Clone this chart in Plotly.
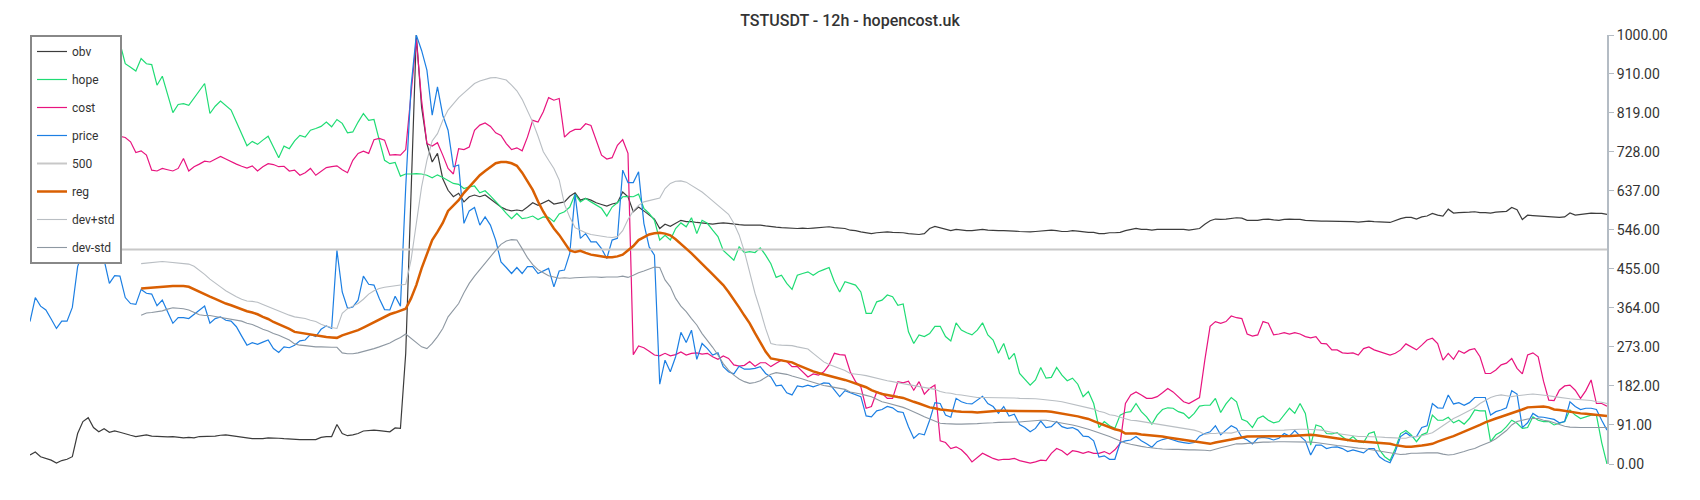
import plotly.graph_objects as go

# ---------------- data (values on a 0-1000 scale, one point per 12h candle) ----------------
obv = [21, 28, 17, 13, 9, 2, 8, 11, 17, 71, 99, 108, 85, 75, 82, 74, 77, 74, 70, 67,
       64, 66, 68, 65, 64, 63, 63, 64, 62, 61, 62, 61, 64, 64, 64, 65, 67, 68, 66, 64,
       63, 61, 59, 59, 59, 61, 61, 60, 59, 58,
       57, 57, 57, 57, 57, 62, 64, 64, 92, 71, 66, 68, 71, 77, 78, 79, 78, 77, 75, 84,
       83, 258, 646, 1000, 832, 747, 704, 724, 665, 638, 623, 631, 611, 623, 627, 623, 627, 617, 607, 599,
       593, 590, 592, 590, 599, 609, 603, 609, 615, 606, 609,
       611, 624, 632, 615, 619, 615, 609, 605, 601, 606, 609, 634, 623, 588, 599, 590, 580, 571, 549, 559,
       554, 561, 568, 565, 565, 563, 562, 561, 559, 561, 562, 561, 559, 558, 557, 557, 558, 557, 555, 553,
       552, 551, 550, 549, 549, 550, 549, 550, 551, 552, 553, 551, 550, 549,
       545, 544, 541, 539, 537, 539, 540, 541, 540, 540, 539, 537, 536, 535, 537, 549, 554, 551, 547, 544,
       547, 545, 544, 544, 545, 547, 545, 544, 544, 544, 544, 543, 542, 541, 541, 542, 543, 544, 545, 544,
       542, 542, 544, 543, 541, 540, 540, 537, 537, 539, 539, 540,
       544, 547, 549, 547, 547, 545, 547, 547, 547, 547, 547, 547, 545, 547, 549, 559, 567, 571, 570, 571,
       572, 574, 573, 568, 568, 568, 570, 571, 569, 568, 570, 571, 570, 570, 568, 567, 566, 566, 566, 566,
       566, 566, 565, 565, 564, 565, 566, 565, 565, 564, 563, 568, 572, 575,
       575, 571, 576, 578, 584, 580, 578, 594, 585, 586, 586, 587, 588, 586, 586, 585, 587, 588, 589, 598,
       593, 570, 580, 579, 578, 577, 576, 576, 575, 576, 585, 580, 582, 584, 585, 584, 584, 582]

hope = [940, 955, 950, 965, 975, 970, 985, 990, 992, 996, 1000, 998, 990, 985, 975, 976,
        981, 981, 933, 925, 916, 945, 933, 931, 883, 904, 862, 819, 838, 840, 836, 853, 870, 887, 817, 834,
        846, 836, 825, 797, 770, 742, 752, 745, 755, 764, 739, 714, 741, 735,
        753, 766, 762, 778, 782, 787, 797, 786, 803, 794, 772, 774, 797, 817, 801, 803, 755, 708, 700, 703,
        671, 676, 676, 677, 676, 673, 667, 674, 668, 660, 654, 652, 642, 646, 648, 632, 637, 625, 613, 599,
        584, 572, 584, 572, 574, 578, 570, 576, 575, 565, 583,
        588, 599, 629, 611, 619, 611, 603, 596, 578, 599, 609, 623, 624, 623, 629, 596, 584, 568, 522, 533,
        522, 549, 562, 553, 574, 537, 568, 561, 545, 530, 498, 487, 475, 506, 493, 495, 493, 504, 487, 467,
        435, 440, 421, 407, 440, 444, 448, 440, 448, 453, 458, 425, 401, 425,
        421, 417, 401, 351, 351, 378, 382, 394, 390, 370, 373, 308, 281, 301, 297, 304, 321, 321, 297, 287,
        329, 312, 306, 301, 312, 329, 301, 289, 258, 281, 244, 258, 211, 197, 184, 196, 225, 200, 202, 225,
        207, 194, 200, 186, 157, 169, 141, 85, 99, 89, 83, 114,
        120, 122, 141, 122, 110, 93, 114, 127, 131, 130, 122, 118, 106, 118, 135, 137, 137, 153, 120, 140,
        155, 145, 104, 99, 85, 106, 112, 102, 96, 99, 114, 130, 118, 141, 118, 44, 91, 87, 71, 70,
        73, 64, 54, 64, 52, 50, 71, 75, 33, 17, 8, 36, 71, 78,
        68, 52, 68, 73, 114, 102, 102, 109, 96, 102, 93, 106, 126, 124, 124, 52, 68, 75, 87, 102,
        95, 83, 85, 110, 102, 99, 99, 91, 95, 99, 126, 114, 106, 110, 114, 114, 50, 0]

cost = [870, 865, 860, 872, 868, 860, 855, 862, 858, 850, 855, 860, 852, 848, 855, 855,
        860, 764, 761, 751, 726, 730, 720, 685, 683, 689, 686, 683, 689, 712, 683, 693, 699, 706, 704, 711,
        717, 711, 704, 699, 694, 690, 695, 683, 693, 700, 698, 693, 694, 683,
        685, 673, 679, 689, 673, 681, 691, 693, 695, 686, 679, 708, 724, 729, 724, 756, 759, 755, 720, 721,
        720, 733, 863, 990, 848, 747, 741, 749, 720, 689, 676, 735, 733, 739, 778, 790, 795, 787, 772, 766,
        747, 733, 737, 730, 762, 801, 797, 821, 854, 848, 852,
        762, 774, 780, 780, 793, 789, 755, 720, 711, 714, 743, 756, 724, 255, 275, 271, 263, 254, 252, 258,
        252, 255, 261, 254, 258, 259, 256, 258, 250, 244, 252, 246, 231, 228, 230, 239, 228, 236, 236, 227,
        235, 242, 239, 227, 227, 215, 203, 210, 207, 215, 231, 258, 255, 254,
        215, 192, 180, 130, 134, 168, 165, 153, 153, 192, 189, 193, 172, 192, 163, 176, 184, 54, 50, 36,
        40, 33, 21, 5, 16, 25, 19, 13, 9, 11, 11, 13, 8, 5, 2, 5, 9, 8, 25, 36,
        31, 21, 31, 29, 25, 29, 25, 25, 29, 23, 33, 48,
        141, 161, 168, 161, 153, 153, 157, 166, 176, 168, 157, 145, 141, 149, 155, 242, 321, 332, 328, 332,
        345, 341, 339, 303, 298, 301, 332, 328, 301, 303, 306, 303, 306, 303, 297, 294, 297, 281, 280, 266,
        266, 259, 258, 259, 254, 269, 273, 266, 262, 258, 254, 258, 266, 280,
        273, 266, 277, 289, 293, 281, 242, 258, 244, 264, 258, 266, 269, 250, 211, 211, 219, 231, 235, 246,
        223, 210, 254, 259, 250, 193, 149, 148, 172, 182, 184, 172, 153, 171, 196, 141, 141, 135]

price = [332, 388, 368, 359, 338, 316, 333, 333, 365, 460, 495, 510, 505, 480, 476, 421, 439, 438, 388, 374,
         372, 407, 398, 396, 369, 382, 355, 328, 341, 341, 339, 349, 359, 368, 328, 339, 343, 335, 333, 320,
         298, 277, 283, 279, 284, 289, 269, 260, 273, 271,
         277, 287, 289, 302, 297, 314, 322, 316, 498, 401, 363, 366, 382, 438, 419, 417, 386, 360, 359, 391,
         368, 646, 879, 1000, 964, 918, 813, 879, 813, 778, 693, 697, 561, 590, 598, 557, 576, 557, 522, 471,
         458, 444, 458, 444, 460, 460, 444, 450, 456, 413, 450,
         452, 491, 629, 526, 537, 518, 518, 502, 479, 522, 526, 685, 656, 656, 681, 561, 506, 487, 186, 242,
         215, 250, 307, 283, 312, 244, 281, 269, 254, 259, 227, 215, 210, 228, 221, 221, 223, 227, 211, 203,
         182, 184, 166, 161, 182, 180, 184, 180, 184, 189, 188, 171, 157, 171,
         166, 161, 157, 112, 110, 124, 127, 134, 131, 122, 120, 87, 60, 71, 68, 102, 143, 141, 114, 109,
         153, 145, 141, 140, 148, 158, 141, 134, 118, 134, 112, 116, 92, 85, 75, 83, 100, 85, 87, 99,
         87, 83, 85, 79, 65, 64, 54, 16, 19, 11, 11, 50,
         54, 56, 64, 54, 47, 39, 52, 57, 60, 56, 52, 50, 48, 50, 65, 71, 75, 89, 68, 79,
         89, 83, 62, 56, 47, 60, 62, 60, 56, 60, 71, 65, 78, 65, 54, 21, 44, 44, 36, 39,
         40, 36, 29, 33, 29, 26, 36, 36, 17, 8, 3, 29, 64, 73,
         64, 64, 85, 89, 141, 131, 130, 161, 140, 143, 137, 143, 155, 155, 155, 114, 122, 126, 131, 171,
         163, 85, 96, 118, 110, 109, 106, 104, 96, 99, 145, 134, 127, 130, 130, 127, 102, 79]

threshold = 500

# regression band starts later (first full window)
reg_start = 21
reg = [409, 410, 412, 413, 414, 415, 415, 415, 415, 413, 407, 401, 395, 390, 385, 379, 374, 370, 365, 360,
       356, 353, 349, 343, 338, 331, 326, 321, 315,
       308, 306, 304, 302, 300, 297, 296, 295, 294, 300, 304, 308, 312, 318, 324, 330, 337, 343, 349, 353,
       357, 362, 386, 417, 456, 491, 522, 541, 562, 590, 603, 615, 632, 646, 660, 673, 683, 693, 701, 704,
       704, 701, 695, 679, 660, 639, 612, 588, 568, 549, 534,
       515, 498, 494, 497, 492, 488, 486, 484, 482, 482, 484, 488, 498, 508, 522, 529, 535, 538, 539, 537,
       533, 524, 514, 502, 491, 478, 467, 454, 442, 429, 417, 401, 384, 365, 346, 328, 305, 283, 262, 246,
       244, 242, 240, 237, 231, 226, 220, 216, 212, 209, 205, 202, 199, 196,
       192, 188, 184, 179, 172, 168, 163, 161, 158, 156, 154, 149, 145, 141, 137, 132, 130, 127, 126, 124,
       123, 122, 122, 121, 120, 121, 123, 123, 124, 124, 124, 124, 124, 124, 124, 124, 124, 123, 122, 120,
       118, 115, 113, 111, 108, 105, 100, 95, 90, 85, 81, 78,
       71, 71, 71, 69, 68, 67, 65, 64, 62, 60, 58, 56, 54, 52, 50, 48, 47, 50, 53, 55,
       57, 60, 62, 64, 64, 64, 64, 64, 64, 64, 64, 65, 66, 67, 67, 68, 67, 65, 64, 61,
       59, 57, 55, 54, 53, 52, 51, 50, 50, 48, 47, 44, 42, 40,
       40, 41, 43, 45, 47, 52, 57, 61, 65, 70, 75, 80, 85, 91, 97, 102, 106, 110, 114, 119,
       123, 127, 132, 133, 134, 134, 132, 127, 126, 124, 122, 119, 118, 117, 116, 115, 114, 112]

dev_plus = [467, 468, 470, 471, 472, 471, 470, 469, 467, 466, 461, 452, 442, 431, 421, 413, 404, 396, 390, 384,
            380, 379, 377, 372, 367, 362, 357, 351, 347,
            343, 341, 339, 335, 332, 326, 321, 318, 316, 351, 362, 368, 374, 384, 396, 404, 409, 412, 414, 416,
            418, 419, 475, 561, 646, 708, 753, 770, 801, 825, 840, 854, 865, 877, 887, 893, 897, 900, 901, 898,
            895, 883, 870, 850, 825, 797, 764, 728, 708, 689, 662,
            605, 575, 551, 545, 539, 535, 533, 530, 529, 528, 530, 544, 570, 590, 603, 611, 614, 617, 620, 642,
            654, 659, 660, 657, 650, 642, 634, 624, 614, 603, 593, 582, 561, 534, 495, 444, 398, 359, 316, 281,
            278, 277, 277, 276, 273, 270, 268, 258, 249, 238, 232, 227, 222, 218,
            211, 210, 208, 206, 203, 200, 196, 194, 192, 189, 187, 185, 183, 181, 179, 177, 174, 169, 166, 165,
            162, 161, 159, 157, 155, 155, 155, 155, 155, 155, 155, 154, 153, 153, 153, 152, 151, 150, 148, 147,
            145, 142, 140, 137, 134, 131, 128, 123, 120, 115, 113, 109,
            105, 102, 101, 99, 97, 95, 94, 92, 90, 88, 85, 83, 81, 79, 75, 69, 71, 71, 73, 73,
            72, 75, 78, 78, 78, 78, 78, 78, 78, 79, 79, 80, 81, 81, 81, 81, 80, 79, 77, 74,
            71, 69, 68, 66, 64, 64, 64, 64, 63, 62, 62, 61, 60, 60,
            64, 64, 66, 69, 73, 81, 89, 99, 106, 112, 118, 124, 131, 141, 148, 155, 159, 161, 159, 157,
            159, 161, 162, 163, 162, 160, 159, 157, 155, 153, 152, 151, 150, 149, 148, 145, 144, 141]

dev_minus = [347, 352, 353, 355, 357, 361, 364, 363, 362, 359, 354, 348, 346, 346, 344, 342, 340, 338, 336, 333,
             328, 325, 320, 314, 310, 304, 300, 295, 289,
             280, 277, 276, 274, 273, 273, 272, 272, 272, 259, 257, 257, 259, 262, 265, 269, 273, 277, 282, 289,
             295, 303, 293, 283, 273, 269, 281, 297, 316, 343, 360, 374, 399, 421, 438, 453, 469, 485, 498, 512,
             520, 523, 522, 502, 481, 465, 453, 446, 439, 436, 433,
             434, 433, 434, 435, 435, 436, 436, 435, 436, 436, 436, 438, 435, 440, 446, 450, 455, 459, 458, 429,
             413, 386, 368, 355, 339, 324, 304, 289, 272, 254, 234, 219, 207, 198, 192, 188, 190, 194, 202, 209,
             213, 211, 209, 205, 202, 198, 194, 190, 187, 183, 181, 179, 176, 174,
             168, 166, 163, 160, 157, 151, 145, 142, 139, 135, 132, 127, 122, 116, 110, 105, 100, 95, 94, 93,
             93, 93, 93, 93, 94, 95, 95, 96, 97, 97, 97, 98, 98, 99, 100, 102, 102, 102, 100, 98,
             95, 93, 91, 88, 85, 81, 77, 73, 68, 64, 59, 54,
             49, 46, 43, 41, 39, 37, 36, 35, 34, 34, 34, 33, 33, 33, 33, 32, 31, 35, 38, 41,
             44, 47, 47, 48, 50, 50, 51, 51, 52, 52, 52, 52, 52, 52, 52, 51, 50, 48, 47, 45,
             43, 42, 40, 39, 37, 36, 34, 33, 31, 29, 26, 24, 22, 23,
             25, 25, 26, 26, 26, 26, 23, 21, 22, 25, 29, 33, 36, 42, 47, 52, 59, 68, 78, 91,
             99, 102, 105, 106, 106, 102, 100, 96, 92, 88, 86, 85, 85, 85, 85, 85, 85, 85]

y_ticks = [0, 91, 182, 273, 364, 455, 546, 637, 728, 819, 910, 1000]
title_text = "TSTUSDT - 12h - hopencost.uk"

# ---------------- figure ----------------
n_points = len(price)


def xs(values, start=0):
    return list(range(start, start + len(values)))


series = [
    ("obv", obv, 0, "#3c3c3c", 1.2),
    ("hope", hope, 0, "#1fdc74", 1.2),
    ("cost", cost, 0, "#e8147f", 1.2),
    ("price", price, 0, "#1c7fe3", 1.2),
    ("500", [threshold] * n_points, 0, "#c8c8c8", 2),
    ("reg", reg, reg_start, "#d95f02", 2.5),
    ("dev+std", dev_plus, reg_start, "#b9bec3", 1.1),
    ("dev-std", dev_minus, reg_start, "#8e98a2", 1.1),
]

fig = go.Figure()
for name, vals, start, color, width in series:
    fig.add_trace(go.Scatter(
        x=xs(vals, start), y=vals, mode="lines", name=name,
        legendgroup=name,
        line=dict(color=color, width=width),
        hoverinfo="skip",
    ))

fig.update_layout(
    width=1700, height=500,
    margin=dict(l=30, r=93, t=35, b=36),
    paper_bgcolor="white", plot_bgcolor="white",
    font=dict(family="Roboto", color="#333333"),
    title=dict(text=title_text, x=0.5, xref="container", xanchor="center",
               y=0.96, yref="container", yanchor="middle",
               font=dict(family="Roboto", size=16, color="#333333", weight=500)),
    showlegend=True,
    legend=dict(x=0, y=1, xanchor="left", yanchor="top",
                bgcolor="white", bordercolor="#888888", borderwidth=2,
                font=dict(family="Roboto", size=12, color="#333333"),
                tracegroupgap=9, itemwidth=30, traceorder="grouped"),
    xaxis=dict(visible=False, range=[0, n_points - 1], showgrid=False, zeroline=False),
    yaxis=dict(side="right", range=[0, 1000], tickvals=y_ticks,
               ticktext=[f"{v:.2f}" for v in y_ticks],
               showgrid=False, zeroline=False,
               showline=True, linecolor="#b4bcc4", linewidth=2,
               ticks="outside", ticklen=5, tickwidth=1, tickcolor="#b4bcc4",
               tickfont=dict(family="Roboto", size=14, color="#333333")),
)

fig.write_html("out.html", config={"displayModeBar": False},
               post_script="document.body.style.margin='0';")
